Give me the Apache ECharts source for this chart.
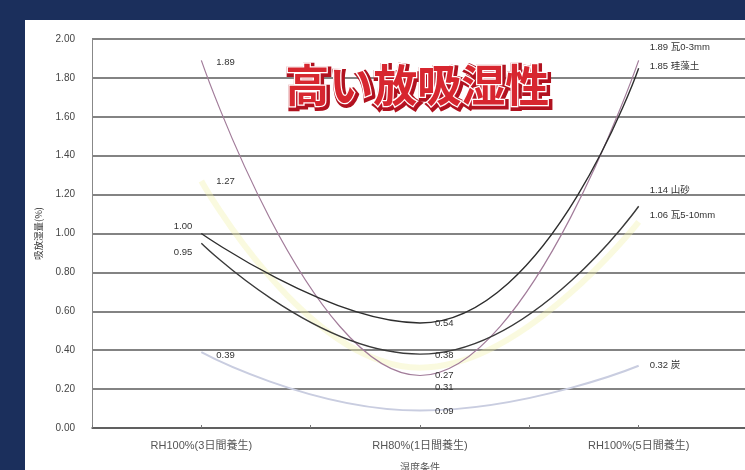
<!DOCTYPE html>
<html>
<head>
<meta charset="utf-8">
<script src="https://cdn.jsdelivr.net/npm/echarts@6/dist/echarts.min.js"></script>
<style>
html,body{margin:0;padding:0;background:#1b2f5c;}
#c{width:745px;height:470px;}
</style>
</head>
<body>
<div id="c"></div>
<script>
// ---- data ----
const categories = ['RH100%(3日間養生)', 'RH80%(1日間養生)', 'RH100%(5日間養生)'];
const seriesNames = ['瓦5-10mm', '炭', '瓦0-3mm', '山砂', '珪藻土'];
const kawara510 = [1.27, 0.31, 1.06];
const sumi = [0.39, 0.09, 0.32];
const kawara03 = [1.89, 0.27, 1.89];
const yamazuna = [0.95, 0.38, 1.14];
const keisoudo = [1.00, 0.54, 1.85];
const yMin = 0, yMax = 2.0, yStep = 0.2;
const chartTitle = '高い放吸湿性';
const yName = '吸放湿量(%)';
const xName = '湿度条件';

const values = [kawara510, sumi, kawara03, yamazuna, keisoudo];

// ---- styles ----
const lineStyles = [
  {color: 'rgba(242,242,170,0.38)', width: 6},
  {color: '#c9cde0', width: 2},
  {color: '#a27c9a', width: 1.2},
  {color: '#3a3a3a', width: 1.4},
  {color: '#2e2e2e', width: 1.4}
];
// label offsets per series per point: [dx, dy, position]
const labelCfg = [
  [[10, 0, 'right'], [10, 20, 'right'], [6, -6, 'right']],
  [[10, 3, 'right'], [10, 1, 'right'], [6, 0, 'right']],
  [[10, 2, 'right'], [10, 0, 'right'], [6, -13, 'right']],
  [[-4, 9, 'left'], [10, 1, 'right'], [6, -16, 'right']],
  [[-4, -7, 'left'], [10, 0, 'right'], [6, -2, 'right']]
];

const series = values.map((arr, si) => ({
  type: 'line',
  name: seriesNames[si],
  smooth: 0.5,
  symbol: 'circle',
  symbolSize: 0,
  showSymbol: true,
  z: 2 + si,
  lineStyle: lineStyles[si],
  itemStyle: {color: 'rgba(0,0,0,0)'},
  data: arr.map((v, i) => ({
    value: v,
    label: {
      show: true,
      position: labelCfg[si][i][2],
      offset: [labelCfg[si][i][0], labelCfg[si][i][1]],
      color: '#333',
      fontSize: 9.5,
      fontFamily: 'Liberation Sans, "Noto Sans CJK JP", sans-serif',
      formatter: () => i === 2 ? v.toFixed(2) + ' ' + seriesNames[si] : v.toFixed(2)
    }
  }))
}));

const chart = echarts.init(document.getElementById('c'));
chart.setOption({
  backgroundColor: '#1b2f5c',
  animation: false,
  graphic: [
    {type: 'rect', left: 25, top: 20, shape: {width: 720, height: 450}, style: {fill: '#ffffff'}, z: -10},
    {type: 'text', left: 284, top: 62, z: 99,
      style: {text: chartTitle, fill: '#c0142a', font: '700 44px "Noto Sans CJK JP"',
        stroke: '#b0121f', lineWidth: 6}},
    {type: 'text', left: 284, top: 62, z: 100,
      style: {text: chartTitle, fill: '#d7262f', font: '700 44px "Noto Sans CJK JP"',
        stroke: '#ffffff', lineWidth: 2.5}}
  ],
  grid: {left: 92, top: 39, width: 656, height: 389, containLabel: false, outerBoundsMode: 'none'},
  xAxis: [
    {type: 'category', data: categories, boundaryGap: true,
      axisLine: {show: true, lineStyle: {color: '#555', width: 1.5}},
      axisTick: {show: false},
      axisLabel: {color: '#555', fontSize: 11, margin: 12, fontFamily: 'Liberation Sans, "Noto Sans CJK JP", sans-serif'},
      name: xName, nameLocation: 'middle', nameGap: 34,
      nameTextStyle: {color: '#555', fontSize: 10, fontFamily: '"Noto Sans CJK JP"'}
    },
    {type: 'value', min: 0, max: 6, interval: 1, position: 'bottom',
      axisLine: {show: false}, axisLabel: {show: false}, splitLine: {show: false},
      axisTick: {show: true, inside: true, length: 3, lineStyle: {color: '#777'}}}
  ],
  yAxis: {
    type: 'value', min: yMin, max: yMax, interval: yStep,
    axisLine: {show: true, lineStyle: {color: '#888', width: 1}},
    axisTick: {show: false},
    axisLabel: {color: '#444', fontSize: 10, margin: 17, fontFamily: 'Liberation Sans, Arial, sans-serif',
      formatter: (v) => v.toFixed(2)},
    splitLine: {show: true, lineStyle: {color: '#5a5a5a', width: 1.5}},
    name: yName, nameLocation: 'middle', nameGap: 49, nameRotate: 90,
    nameTextStyle: {color: '#333', fontSize: 9.5, fontFamily: '"Noto Sans CJK JP"'}
  },
  series: series
});
</script>
</body>
</html>
